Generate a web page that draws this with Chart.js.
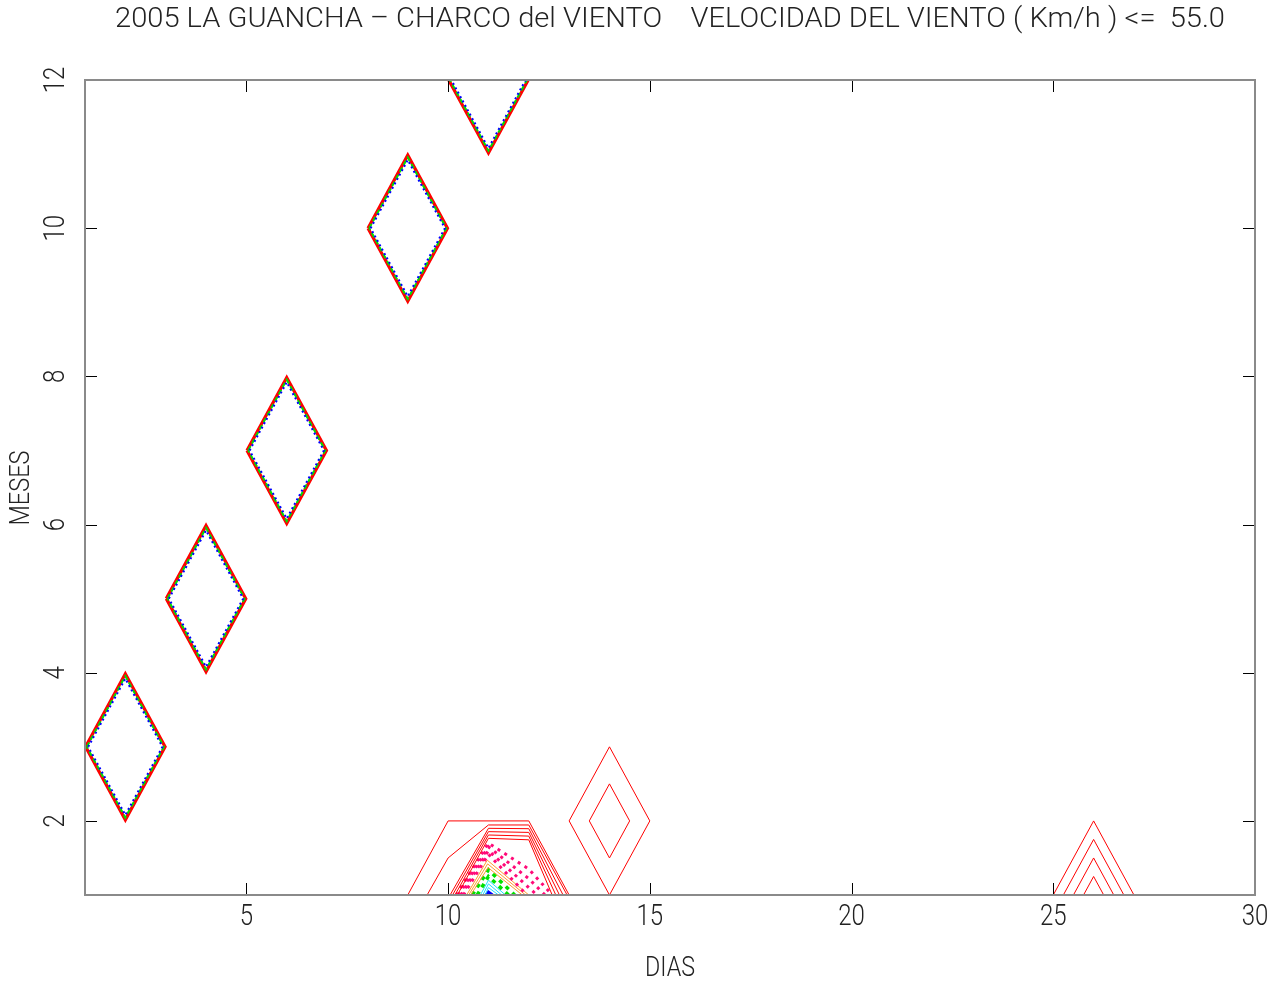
<!DOCTYPE html>
<html>
<head>
<meta charset="utf-8">
<script src="https://cdn.jsdelivr.net/npm/chart.js@4.4.1/dist/chart.umd.min.js"></script>
<style>
  html, body { margin: 0; padding: 0; background: #ffffff; }
  canvas { display: block; }
</style>
</head>
<body>
<canvas id="chart" width="1281" height="983"></canvas>
<script>
// ---- labels ----
const titleText = '2005 LA GUANCHA \u2013 CHARCO del VIENTO    VELOCIDAD DEL VIENTO ( Km/h ) <=  55.0';
const xAxisTitle = 'DIAS';
const yAxisTitle = 'MESES';
const dayTicks = [5, 10, 15, 20, 25, 30];
const monthTicks = [2, 4, 6, 8, 10, 12];

// ---- isolated single-day peaks (day, month) ----
const peakDays = [2, 4, 6, 9, 11];
const peakMonths = [3, 5, 7, 10, 12];
// how far (in grid steps) the three lowest contour levels reach from each peak
const peakLevelReach = [0.985, 0.955, 0.92];

// ---- contour lines around the January / February cluster, as [day, month] ----
const redContours = [
  [[9.0, 1], [10, 2], [12, 2], [13.0, 1]],
  [[9.48, 1], [10, 1.5], [11, 1.945], [12, 1.945], [12.95, 1]],
  [[10.05, 1], [11, 1.90], [12, 1.895], [12.85, 1]],
  [[10.11, 1], [11, 1.855], [12, 1.845], [12.76, 1]],
  [[10.17, 1], [11, 1.81], [12, 1.795], [12.67, 1]],
  [[10.23, 1], [11, 1.765], [12, 1.745], [12.58, 1]],
  // day 14, February
  [[13, 2], [14, 3], [15, 2], [14, 1], [13, 2]],
  [[13.5, 2], [14, 2.5], [14.5, 2], [14, 1.5], [13.5, 2]],
  // day 26, January
  [[25, 1], [26, 2], [27, 1]],
  [[25.25, 1], [26, 1.75], [26.75, 1]],
  [[25.5, 1], [26, 1.5], [26.5, 1]],
  [[25.75, 1], [26, 1.25], [26.25, 1]]
];
const magentaContours = [
  [[10.2, 1], [11, 1.70], [12, 1.35], [12.58, 1]],
  [[10.26, 1], [11, 1.65], [12, 1.22], [12.4, 1]],
  [[10.32, 1], [11, 1.60], [12, 1.1], [12.2, 1]],
  [[10.38, 1], [11, 1.55], [11.95, 1]]
];
const orangeContours = [
  [[10.46, 1], [10.97, 1.47], [12.0, 1]],
  [[10.51, 1], [10.98, 1.42], [11.92, 1]],
  [[10.56, 1], [10.99, 1.37], [11.84, 1]]
];
const greenContours = [
  [[10.6, 1], [11.0, 1.34], [11.65, 1]],
  [[10.72, 1], [11.0, 1.25], [11.5, 1]]
];
const cyanContours = [
  [[10.8, 1], [11.0, 1.2], [11.42, 1]],
  [[10.86, 1], [11.0, 1.15], [11.33, 1]],
  [[10.92, 1], [11.0, 1.1], [11.25, 1]]
];
const blueContours = [
  [[10.94, 1], [11.0, 1.04], [11.1, 1]]
];

// ---- build datasets ----
function toPoints(path) {
  return path.map(p => ({ x: p[0], y: p[1] }));
}
function lineSet(path, color, width, dash) {
  return {
    data: toPoints(path),
    borderColor: color,
    borderWidth: width,
    borderDash: dash || [],
    showLine: true,
    fill: false,
    pointRadius: 0,
    tension: 0
  };
}

// diamond-shaped contour around a single-point peak
function diamond(day, month, r) {
  return [[day - r, month], [day, month + r], [day + r, month], [day, month - r], [day - r, month]];
}

const peakStyles = [
  { color: '#ff0000', width: 3.2, dash: [] },
  { color: '#00e000', width: 2, dash: [5, 3] },
  { color: '#0000ff', width: 2, dash: [2, 3] }
];

const datasets = [];
// lowest levels around isolated peaks (drawn inner first, red on top)
for (let lv = peakLevelReach.length - 1; lv >= 0; lv--) {
  const st = peakStyles[lv];
  peakDays.forEach((d, i) => {
    datasets.push(lineSet(diamond(d, peakMonths[i], peakLevelReach[lv]), st.color, st.width, st.dash));
  });
}
redContours.forEach(p => datasets.push(lineSet(p, '#ff0000', 1)));
magentaContours.forEach(p => datasets.push(lineSet(p, '#ff0a78', 3, [3, 5])));
orangeContours.forEach(p => datasets.push(lineSet(p, '#ff9a30', 1)));
greenContours.forEach(p => datasets.push(lineSet(p, '#00e000', 3.5, [4, 5])));
cyanContours.forEach(p => datasets.push(lineSet(p, '#20e0ff', 1)));
blueContours.forEach(p => datasets.push(lineSet(p, '#0000ff', 3)));

// ---- frame, inward ticks and text ----
const FONT = "'Roboto', 'DejaVu Sans', sans-serif";
function drawText(ctx, text, cx, cy, size, targetWidth, rot, stretchY) {
  ctx.save();
  ctx.font = '300 ' + size + 'px ' + FONT;
  ctx.textAlign = 'center';
  ctx.textBaseline = 'middle';
  ctx.translate(cx, cy);
  if (rot) ctx.rotate(rot);
  const sx = targetWidth ? targetWidth / ctx.measureText(text).width : 1;
  ctx.scale(sx, stretchY || 1);
  ctx.fillText(text, 0, 0);
  ctx.restore();
}

const framePlugin = {
  id: 'frame',
  afterDraw(chart) {
    const ctx = chart.ctx;
    const a = chart.chartArea;
    const xs = chart.scales.x, ys = chart.scales.y;
    ctx.save();
    // ticks
    ctx.strokeStyle = '#000000';
    ctx.lineWidth = 1;
    ctx.beginPath();
    dayTicks.forEach(v => {
      const px = Math.round(xs.getPixelForValue(v)) + 0.5;
      ctx.moveTo(px, a.bottom); ctx.lineTo(px, a.bottom - 12);
      ctx.moveTo(px, a.top); ctx.lineTo(px, a.top + 12);
    });
    monthTicks.forEach(v => {
      const py = Math.round(ys.getPixelForValue(v)) + 0.5;
      ctx.moveTo(a.left, py); ctx.lineTo(a.left + 12, py);
      ctx.moveTo(a.right, py); ctx.lineTo(a.right - 12, py);
    });
    ctx.stroke();
    // frame
    ctx.strokeStyle = '#8a8a8a';
    ctx.lineWidth = 2;
    ctx.strokeRect(a.left, a.top, a.right - a.left, a.bottom - a.top);
    // labels
    ctx.fillStyle = '#222222';
    dayTicks.forEach(v => {
      drawText(ctx, String(v), xs.getPixelForValue(v), 918, 24, 0, 0, 1.22);
    });
    monthTicks.forEach(v => {
      drawText(ctx, String(v), 57, ys.getPixelForValue(v), 24, 0, -Math.PI / 2, 1.22);
    });
    drawText(ctx, xAxisTitle, (a.left + a.right) / 2, 969, 24, 50, 0, 1.15);
    drawText(ctx, yAxisTitle, 22, 488, 24, 75, -Math.PI / 2, 1.15);
    drawText(ctx, titleText, 670, 20, 26, 1110, 0, 1.05);
    ctx.restore();
  }
};

new Chart(document.getElementById('chart'), {
  type: 'scatter',
  data: { datasets },
  options: {
    responsive: false,
    animation: false,
    devicePixelRatio: 1,
    layout: { padding: { left: 85, top: 80, right: 26, bottom: 88 } },
    plugins: { legend: { display: false }, tooltip: { enabled: false }, title: { display: false } },
    scales: {
      x: { type: 'linear', min: 1, max: 30, display: false },
      y: { type: 'linear', min: 1, max: 12, display: false }
    }
  },
  plugins: [framePlugin]
});
</script>
</body>
</html>
